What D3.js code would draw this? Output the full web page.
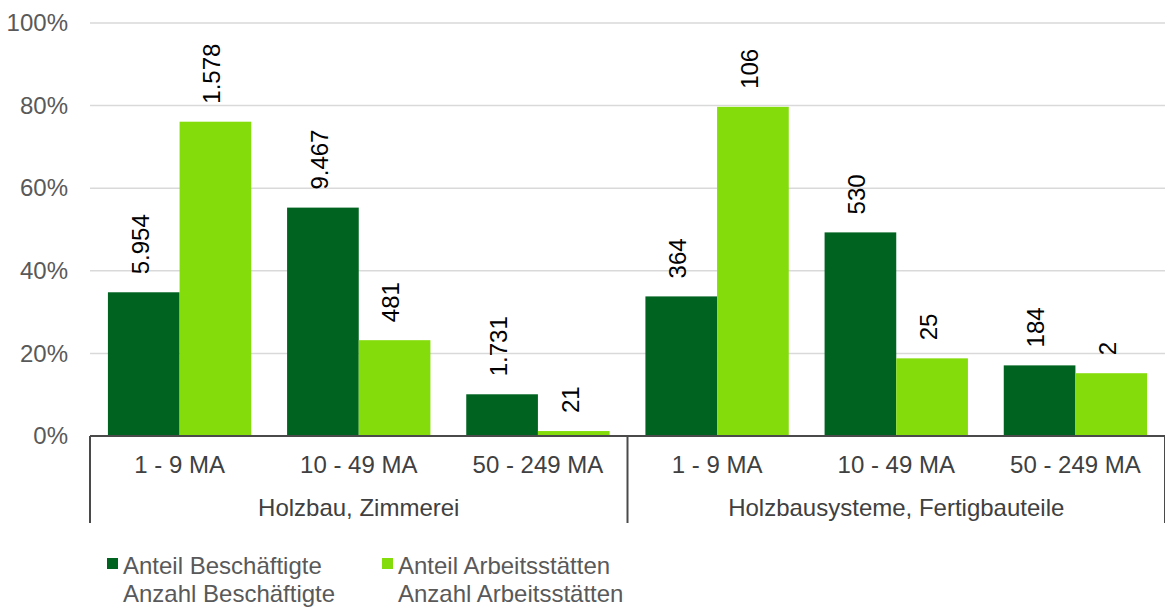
<!DOCTYPE html>
<html><head><meta charset="utf-8">
<script src="https://cdn.jsdelivr.net/npm/d3@7"></script>
<style>body{margin:0;background:#fff}svg{display:block;font-family:"Liberation Sans",Arial,sans-serif}</style>
</head><body><svg id="c" width="1165" height="610"></svg>
<script>
const groups = ["Holzbau, Zimmerei", "Holzbausysteme, Fertigbauteile"];
const sizeClasses = ["1 - 9 MA", "10 - 49 MA", "50 - 249 MA"];
const seriesNames = ["Anteil Beschäftigte", "Anteil Arbeitsstätten"];
const countNames = ["Anzahl Beschäftigte", "Anzahl Arbeitsstätten"];
const shareEmployees = [0.348, 0.553, 0.101, 0.338, 0.493, 0.171];
const shareSites = [0.761, 0.232, 0.012, 0.797, 0.188, 0.152];
const countEmployees = ["5.954", "9.467", "1.731", "364", "530", "184"];
const countSites = ["1.578", "481", "21", "106", "25", "2"];
const yTicks = [0, 0.2, 0.4, 0.6, 0.8, 1.0];
const colors = ["#006420", "#84DC0A"];

const svg = d3.select("#c");
const mLeft = 90, mRight = 1165, mTop = 23, mBottom = 436;
const FS = 24;
const cats = [];
groups.forEach((g, gi) => sizeClasses.forEach((s, si) => cats.push({g, s, i: gi * 3 + si})));

const x0 = d3.scaleBand().domain(cats.map(d => d.i)).range([mLeft, mRight]).padding(0);
const bw = x0.bandwidth();
const x1 = d3.scaleBand().domain([0, 1]).range([bw * 0.1, bw * 0.9]).padding(0);
const y = d3.scaleLinear().domain([0, 1]).range([mBottom, mTop]);

// gridlines
svg.append("g").selectAll("line").data(yTicks.filter(t => t > 0)).join("line")
  .attr("x1", mLeft).attr("x2", mRight).attr("y1", d => y(d)).attr("y2", d => y(d))
  .attr("stroke", "#d9d9d9").attr("stroke-width", 1.5);

// y axis labels
const yAxis = d3.axisLeft(y).tickValues(yTicks).tickFormat(d3.format(".0%")).tickSize(0).tickPadding(22);
const ya = svg.append("g").attr("transform", `translate(${mLeft},0)`).call(yAxis);
ya.select(".domain").remove();
ya.selectAll("text").attr("font-size", FS).attr("fill", "#595959").attr("font-family", "Liberation Sans, Arial, sans-serif");

// bars
const data = cats.map(c => ({...c, vals: [shareEmployees[c.i], shareSites[c.i]], labels: [countEmployees[c.i], countSites[c.i]]}));
const cg = svg.append("g").selectAll("g").data(data).join("g").attr("transform", d => `translate(${x0(d.i)},0)`);
cg.selectAll("rect").data(d => d.vals.map((v, k) => ({v, k}))).join("rect")
  .attr("x", d => x1(d.k)).attr("width", x1.bandwidth())
  .attr("y", d => y(d.v)).attr("height", d => y(0) - y(d.v))
  .attr("fill", d => colors[d.k]);
cg.selectAll("text").data(d => d.vals.map((v, k) => ({v, k, t: d.labels[k]}))).join("text")
  .attr("transform", d => `translate(${x1(d.k) + x1.bandwidth() / 2},${y(d.v) - 18}) rotate(-90)`)
  .attr("dy", "0.2em").attr("text-anchor", "start")
  .attr("font-size", FS).attr("fill", "#000").text(d => d.t);

// x axis line
svg.append("line").attr("x1", mLeft).attr("x2", mRight).attr("y1", mBottom).attr("y2", mBottom)
  .attr("stroke", "#4a4a4a").attr("stroke-width", 2);
// group separators
const sepX = [mLeft, x0(3), mRight];
svg.append("g").selectAll("line").data(sepX).join("line")
  .attr("x1", d => d).attr("x2", d => d).attr("y1", mBottom).attr("y2", 523)
  .attr("stroke", "#4a4a4a").attr("stroke-width", 2);

// category labels
svg.append("g").selectAll("text").data(cats).join("text")
  .attr("x", d => x0(d.i) + bw / 2).attr("y", 465).attr("dy", "0.35em")
  .attr("text-anchor", "middle").attr("font-size", FS).attr("fill", "#404040").text(d => d.s);
svg.append("g").selectAll("text").data(groups).join("text")
  .attr("x", (d, i) => (x0(i * 3) + x0(i * 3 + 2) + bw) / 2).attr("y", 508).attr("dy", "0.35em")
  .attr("text-anchor", "middle").attr("font-size", FS).attr("fill", "#404040").text(d => d);

// legend
const legX = [107, 382];
const lg = svg.append("g").selectAll("g").data(seriesNames).join("g")
  .attr("transform", (d, i) => `translate(${legX[i]},0)`);
lg.append("rect").attr("x", 0).attr("y", 558).attr("width", 11).attr("height", 11).attr("fill", (d, i) => colors[i]);
lg.append("text").attr("x", 16).attr("y", 574).attr("font-size", FS).attr("fill", "#595959").text(d => d);
lg.append("text").attr("x", 16).attr("y", 602).attr("font-size", FS).attr("fill", "#595959").text((d, i) => countNames[i]);
</script></body></html>
